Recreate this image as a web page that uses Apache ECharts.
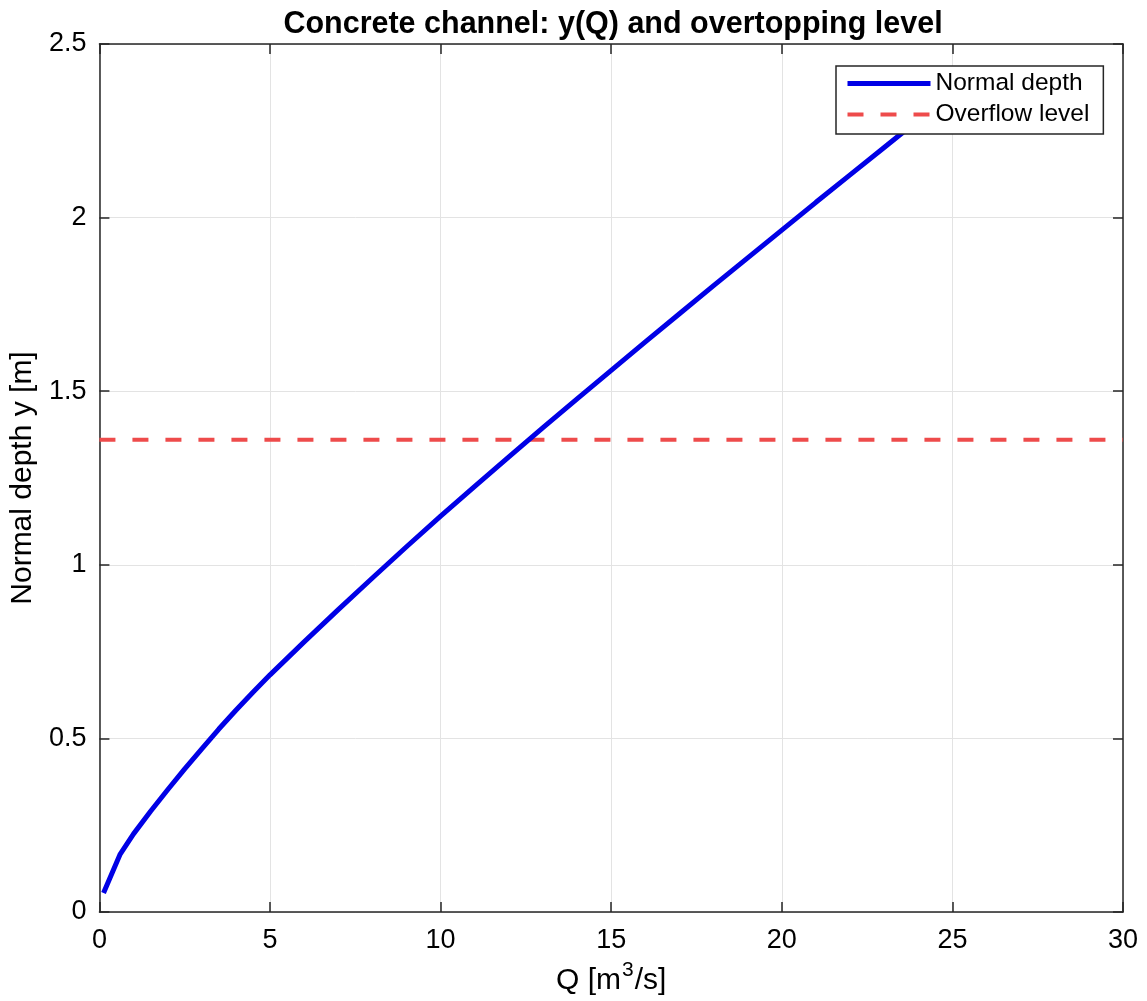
<!DOCTYPE html>
<html>
<head>
<meta charset="utf-8">
<script src="https://cdn.jsdelivr.net/npm/echarts@6/dist/echarts.min.js"></script>
<style>
  html, body { margin: 0; padding: 0; background: #fff; }
  #chart { width: 1147px; height: 1001px; }
</style>
</head>
<body>
<div id="chart"></div>
<script>
// normal depth curve
var flowQ = [0.12, 0.6, 1.0, 1.5, 2.0, 2.5, 3.0, 3.5, 4.0, 4.5, 5.0, 6.0, 7.0, 8.0, 9.0, 10.0, 11.0, 12.0, 13.0, 14.0, 15.0, 16.0, 17.0, 18.0, 19.0, 20.0, 21.0, 22.0, 23.0, 24.0, 25.0];
var depthY = [0.055, 0.165, 0.225, 0.29, 0.352, 0.412, 0.47, 0.527, 0.581, 0.633, 0.683, 0.778, 0.871, 0.962, 1.052, 1.14, 1.226, 1.311, 1.395, 1.478, 1.56, 1.642, 1.723, 1.804, 1.884, 1.964, 2.044, 2.123, 2.202, 2.281, 2.36];
// overflow (overtopping) level
var overflowQ = [0, 30];
var overflowY = 1.36;

var xTicks = [0, 30, 5];   // min, max, step
var yTicks = [0, 2.5, 0.5];

var fontName = '"Liberation Sans", Arial, Helvetica, sans-serif';
var blue = '#0000e6';
var red = '#ee4b4b';

var normalData = [];
for (var i = 0; i < flowQ.length; i++) normalData.push([flowQ[i], depthY[i]]);
var overflowData = [];
for (var j = 0; j < overflowQ.length; j++) overflowData.push([overflowQ[j], overflowY]);

var chart = echarts.init(document.getElementById('chart'), null, { renderer: 'canvas' });

var axisLine = { show: true, onZero: false, lineStyle: { color: '#262626', width: 1.5 } };
var tick = { show: true, inside: true, length: 10, lineStyle: { color: '#262626', width: 1.5 } };
var grid = { show: true, lineStyle: { color: '#e3e3e3', width: 1 } };

chart.setOption({
  backgroundColor: '#fff',
  animation: false,
  title: {
    text: 'Concrete channel: y(Q) and overtopping level',
    left: 608,
    textAlign: 'center',
    top: 4,
    textStyle: { fontFamily: fontName, fontSize: 30.5, fontWeight: 'bold', color: '#000' }
  },
  grid: { left: 98, right: 24, top: 44, bottom: 89, containLabel: false },
  legend: {
    left: 836,
    top: 66,
    orient: 'vertical',
    itemWidth: 83,
    itemHeight: 14,
    itemGap: 6,
    padding: [5, 14, 7, 9],
    backgroundColor: '#fff',
    borderColor: '#262626',
    borderWidth: 1.5,
    borderRadius: 0,
    itemStyle: { opacity: 0 },
    textStyle: { fontFamily: fontName, fontSize: 24.5, color: '#000' },
    data: [
      { name: 'Normal depth', lineStyle: { width: 5, color: blue } },
      { name: 'Overflow level', lineStyle: { width: 4, color: red, type: [16, 17] } }
    ]
  },
  xAxis: [{
    type: 'value',
    min: xTicks[0], max: xTicks[1], interval: xTicks[2],
    name: '{a|Q [m}{s|3}{a|/s]}',
    nameLocation: 'middle',
    nameGap: 48,
    nameTextStyle: {
      rich: {
        a: { fontFamily: fontName, fontSize: 30, color: '#000', lineHeight: 36, verticalAlign: 'bottom' },
        s: { fontFamily: fontName, fontSize: 21, color: '#000', lineHeight: 36, verticalAlign: 'top', padding: [0, 1, 12, 1] }
      }
    },
    axisLine: axisLine,
    axisTick: tick,
    splitLine: grid,
    axisLabel: { fontFamily: fontName, fontSize: 27, color: '#000', margin: 15 }
  }, {
    type: 'value', position: 'top',
    min: xTicks[0], max: xTicks[1], interval: xTicks[2],
    axisLine: axisLine, axisTick: tick, splitLine: { show: false },
    axisLabel: { show: false }
  }],
  yAxis: [{
    type: 'value',
    min: yTicks[0], max: yTicks[1], interval: yTicks[2],
    name: 'Normal depth y [m]',
    nameLocation: 'middle',
    nameGap: 45,
    nameTextStyle: { fontFamily: fontName, fontSize: 30, color: '#000' },
    axisLine: axisLine,
    axisTick: tick,
    splitLine: grid,
    axisLabel: { fontFamily: fontName, fontSize: 27, color: '#000', margin: 13 }
  }, {
    type: 'value', position: 'right',
    min: yTicks[0], max: yTicks[1], interval: yTicks[2],
    axisLine: axisLine, axisTick: tick, splitLine: { show: false },
    axisLabel: { show: false }
  }],
  series: [{
    name: 'Normal depth',
    type: 'line',
    data: normalData,
    smooth: false,
    symbol: 'none',
    clip: true,
    lineStyle: { color: blue, width: 5 },
    itemStyle: { color: blue },
    z: 3
  }, {
    name: 'Overflow level',
    type: 'line',
    data: overflowData,
    symbol: 'none',
    lineStyle: { color: red, width: 4, type: [16, 17] },
    itemStyle: { color: red },
    z: 2
  }]
});
</script>
</body>
</html>
